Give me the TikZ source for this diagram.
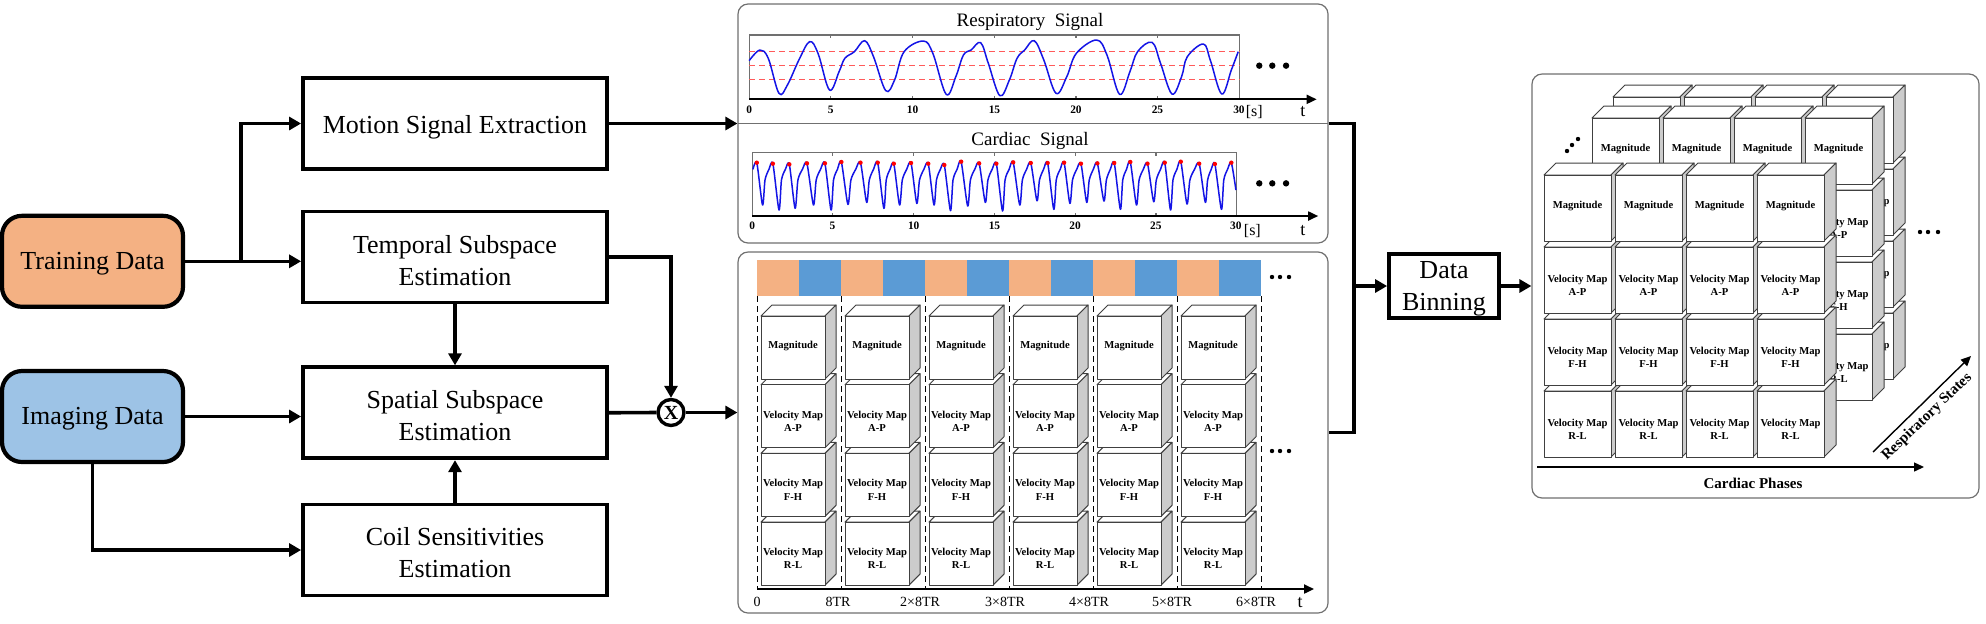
\documentclass[tikz,border=0pt]{standalone}
\usepackage{fontspec}
\setmainfont{Liberation Serif}
\usetikzlibrary{arrows.meta,positioning}
\definecolor{trainfill}{HTML}{F4B183}
\definecolor{imagefill}{HTML}{9DC3E6}
\definecolor{barblue}{HTML}{5B9BD5}
\definecolor{cubeside}{HTML}{CCCCCC}
\definecolor{cubeline}{HTML}{404040}
\definecolor{panelline}{HTML}{707070}
\definecolor{sigblue}{HTML}{1414E6}
\definecolor{guidered}{HTML}{FF5A5A}
\tikzset{
  procbox/.style={draw=black,line width=1.9pt,fill=white,inner sep=0pt},
  boxlabel/.style={inner sep=0pt,align=center,font=\fontsize{13}{16}\selectfont},
  databox/.style={procbox,rounded corners=10pt,line width=2.1pt,minimum width=90.5pt,minimum height=45.5pt},
  panelbox/.style={draw=panelline,line width=0.6pt,rounded corners=5pt,fill=white,inner sep=0pt},
  flow/.style={line width=1.8pt,-{Triangle[length=6pt,width=6.5pt]}},
  flowline/.style={line width=1.8pt},
  axisarrow/.style={line width=0.9pt,-{Triangle[length=5pt,width=4.5pt]}},
  sigcurve/.style={sigblue,line width=0.75pt,line join=round},
  frameline/.style={draw=panelline,line width=0.6pt},
  guide/.style={guidered,line width=0.5pt,densely dashed},
  tr/.style={font=\bfseries\fontsize{5.7}{6}\selectfont,inner sep=0pt},
  sub/.style={font=\fontsize{8}{9}\selectfont,inner sep=0pt},
  titletext/.style={font=\fontsize{9.5}{11}\selectfont,inner sep=0pt},
  timelabel/.style={font=\fontsize{7}{8}\selectfont,inner sep=0pt},
  faceline/.style={draw=cubeline,line width=0.5pt,line join=round},
  cubetext/.style={font=\bfseries\fontsize{5.3}{6.6}\selectfont,align=center,inner sep=0pt},
  axisname/.style={font=\bfseries\fontsize{7.5}{8}\selectfont,inner sep=0pt}
}
% #1 x, #2 y, #3 w, #4 h, #5 d, #6 text offset, #7 text, #8 name
\newcommand{\mcube}[8]{%
  \path[faceline,fill=white] (#1,#2)--++(#5,-#5)--++(#3,0)--++(-#5,#5)--cycle;
  \path[faceline,fill=cubeside] (#1+#3,#2)--++(#5,-#5)--++(0,#4)--++(-#5,#5)--cycle;
  \path[faceline,fill=white] (#1,#2) rectangle ++(#3,#4);
  \node[cubetext] (#8) at (#1+#3/2,#2+#4/2+#6) {#7};
}
\newcommand{\mdots}[4]{%
  \fill (#1) circle[radius=#4]; \fill (#2) circle[radius=#4]; \fill (#3) circle[radius=#4];
}
\begin{document}
\begin{tikzpicture}[x=0.5pt,y=-0.5pt]
\useasboundingbox (0,0) rectangle (1986,623);

% process boxes
\node[procbox,minimum width=152pt,minimum height=45.5pt] (motion) at (455,123.5) {};
\node[boxlabel] (motionT) at (455,127) {Motion Signal Extraction};
\node[procbox,minimum width=152pt,minimum height=45.5pt] (temporal) at (455,257) {};
\node[boxlabel] (temporalT) at (455,261) {Temporal Subspace\\Estimation};
\node[procbox,minimum width=152pt,minimum height=45.5pt] (spatial) at (455,412.75) {};
\node[boxlabel] (spatialT) at (455,416) {Spatial Subspace\\Estimation};
\node[procbox,minimum width=152pt,minimum height=45.5pt] (coil) at (455,550) {};
\node[boxlabel] (coilT) at (455,553) {Coil Sensitivities\\Estimation};
\node[databox,fill=trainfill] (training) at (92.5,261.3) {};
\node[boxlabel] (trainingT) at (92.5,264) {Training Data};
\node[databox,fill=imagefill] (imaging) at (92.5,416.5) {};
\node[boxlabel] (imagingT) at (92.5,419) {Imaging Data};
\node[draw=black,line width=1.7pt,circle,fill=white,minimum size=13pt,inner sep=0pt,font=\bfseries\fontsize{10}{10}\selectfont] (mult) at (671,412.5) {X};
\node[procbox,minimum width=55pt,minimum height=32pt] (binning) at (1444,286) {};
\node[boxlabel] (binningT) at (1444,289) {Data\\Binning};

% panels
\node[panelbox,minimum width=295pt,minimum height=119.5pt] (panelA) at (1033,123.5) {};
\node[panelbox,minimum width=295pt,minimum height=180.5pt] (panelB) at (1033,432.5) {};
\node[panelbox,minimum width=223.5pt,minimum height=212pt] (panelC) at (1755.5,286) {};

% connectors
\coordinate (split) at (241,261.3);
\coordinate (topbend) at (1354,123.5);
\coordinate (botbend) at (1354,432.5);
\coordinate (merge) at (1354,286);
\draw[flow] (training.east) -- (training.east -| temporal.west);
\draw[flow] (split) |- (motion.west);
\draw[flow] (imaging.east) -- (imaging.east -| spatial.west);
\draw[flow] (imaging.south) |- (coil.west);
\draw[flow] (temporal.south) -- (spatial.north);
\draw[flow] (coil.north) -- (spatial.south);
\draw[flow] (temporal.east) -| (mult.north);
\draw[flowline] (spatial.east) -- (mult.west);
\draw[flow] (mult.east) -- (mult.east -| panelB.west);
\draw[flow] (motion.east) -- (panelA.west);
\draw[flowline,line join=miter] (panelA.east) -- (topbend) -- (botbend) -- (panelB.east);
\draw[flow] (merge) -- (binning.west);
\draw[flow] (binning.east) -- (panelC.west);

% panel A: signals
\coordinate (divL) at (738,123);
\coordinate (divR) at (1328,123);
\draw[panelline,line width=0.5pt] (divL) -- (divR);
\node[titletext] (respTitle) at (1030,22) {Respiratory\ \ Signal};
\node[titletext] (cardTitle) at (1030,141) {Cardiac\ \ Signal};

\begin{scope}[shift={(730,0)},x=0.19135pt,y=-0.16667pt]
  \draw[frameline] (50,105) rectangle (1332,298);
  \foreach \v in {263,477,691,904,1117} {\draw[frameline] (\v,105) -- (\v,115); \draw[frameline] (\v,298) -- (\v,288);}
  \foreach \v in {155,197,239} {\draw[guide] (50,\v) -- (1332,\v);}
  \draw[sigcurve] plot[smooth,tension=0.6] coordinates {(50,182)(78,150)(100,175)(128,280)(150,255)(180,180)(208,125)(230,160)(260,270)(285,215)(300,175)(325,155)(352,122)(375,170)(407,272)(430,240)(455,155)(505,123)(530,160)(565,283)(590,230)(610,165)(630,150)(655,128)(675,190)(705,287)(730,240)(750,175)(770,150)(795,122)(820,180)(852,280)(880,230)(905,160)(958,120)(985,165)(1018,283)(1045,215)(1065,155)(1103,127)(1125,190)(1155,282)(1180,230)(1195,170)(1237,132)(1255,180)(1285,282)(1310,210)(1328,155)};
  \coordinate (axAs) at (50,298); \coordinate (axAe) at (1533,298);
  \draw[axisarrow] (axAs) -- (axAe);
  \foreach \v/\l in {50/0,263/5,477/10,691/15,904/20,1117/25,1330/30} {\node[tr] (ra\l) at (\v,330) {\l};}
  \node[sub] (rs) at (1370,335) {[s]};
  \node[sub,font=\fontsize{9}{10}\selectfont] (rt) at (1497,335) {t};
  \mdots{1383,197}{1417,197}{1453,197}{1.6pt}

  % cardiac
  \draw[frameline] (58,458) rectangle (1324,648);
  \foreach \v in {268,480,691,902,1113} {\draw[frameline] (\v,458) -- (\v,468); \draw[frameline] (\v,648) -- (\v,638);}
  \gdef\cardlist{(60,508)}
  \foreach \pk/\pky/\tr/\try/\nx in {70/488/85/615/112,112/491/128/630/155,155/493/170/625/201,201/490/218/615/248,248/490/264/630/291,291/486/308/613/341,341/488/357/607/386,386/488/402/625/428,428/491/443/615/473,473/489/488/610/518,518/491/533/615/560,560/495/576/632/604,604/485/621/618/651,651/490/667/607/696,696/491/712/633/740,740/487/757/615/786,786/489/802/602/830,830/489/846/628/873,873/488/888/610/917,917/491/932/607/960,960/490/977/603/1004,1004/489/1020/628/1046,1046/486/1062/615/1091,1091/491/1107/605/1136,1136/488/1151/630/1178,1178/485/1194/612/1226,1226/491/1242/607/1267,1267/492/1284/628/1310}{
    \pgfmathsetmacro{\aa}{\tr+0.24*(\nx-\tr)}
    \pgfmathsetmacro{\bb}{\tr+0.62*(\nx-\tr)}
    \xdef\cardlist{\cardlist (\pk,\pky)(\tr,\try)(\aa,540)(\bb,508)}
  }
  \xdef\cardlist{\cardlist (1310,488)(1322,570)}
  \edef\drawcard{\noexpand\draw[sigcurve] plot[smooth,tension=0.45] coordinates {\cardlist};}
  \drawcard
  \foreach \pk/\pky in {70/488,112/491,155/493,201/490,248/490,291/486,341/488,386/488,428/491,473/489,518/491,560/495,604/485,651/490,696/491,740/487,786/489,830/489,873/488,917/491,960/490,1004/489,1046/486,1091/491,1136/488,1178/485,1226/491,1267/492,1310/488}{
    \fill[red] (\pk,\pky) circle[radius=1.1pt];
  }
  \coordinate (axCs) at (58,648); \coordinate (axCe) at (1537,648);
  \draw[axisarrow] (axCs) -- (axCe);
  \foreach \v/\l in {58/0,268/5,480/10,691/15,902/20,1113/25,1322/30} {\node[tr] (ca\l) at (\v,678) {\l};}
  \node[sub] (cs) at (1365,692) {[s]};
  \node[sub,font=\fontsize{9}{10}\selectfont] (ct) at (1497,692) {t};
  \mdots{1383,550}{1417,550}{1453,550}{1.6pt}
\end{scope}

% panel B: time bars and cubes
\foreach \k in {0,...,5} {
  \pgfmathsetmacro{\bx}{757+84*\k}
  \fill[trainfill] (\bx,260) rectangle ++(42,36);
  \fill[barblue] (\bx+42,260) rectangle ++(42,36);
}
\foreach \k in {0,...,6} {
  \pgfmathsetmacro{\bx}{757.5+84*\k}
  \draw[black,line width=0.5pt,densely dashed] (\bx,296) -- (\bx,588);
}
\foreach \k in {0,...,5} {
  \pgfmathsetmacro{\cx}{761+84*\k}
  \foreach \r/\lb/\off in {3/{Velocity Map\\R-L}/5,2/{Velocity Map\\F-H}/5,1/{Velocity Map\\A-P}/5,0/Magnitude/-2} {
    \pgfmathsetmacro{\cy}{316+68.7*\r}
    \mcube{\cx}{\cy}{64}{63}{11}{\off}{\lb}{b\k r\r}
  }
}
\coordinate (axBs) at (757,589); \coordinate (axBe) at (1314,589);
\draw[axisarrow,line width=1.1pt] (axBs) -- (axBe);
\foreach \v/\l/\n in {757/0/a,838/8TR/b,920/2×8TR/c,1005/3×8TR/d,1089/4×8TR/e,1172/5×8TR/f,1256/6×8TR/g} {\node[timelabel] (tl\n) at (\v,602) {\l};}
\node[sub,font=\fontsize{9}{10}\selectfont] (bt) at (1300,603) {t};
\mdots{1272,277}{1280,277}{1289,277}{1.1pt}
\mdots{1272,451}{1280,451}{1289,451}{1.1pt}

% panel C: cube stacks
\foreach \lx/\ly/\ln in {1613/97/z,1592/118/y,1544/175/x} {
  \foreach \k in {0,...,3} {
    \pgfmathsetmacro{\cx}{\lx+71*\k}
    \foreach \r/\lb/\off in {3/{Velocity Map\\R-L}/5,2/{Velocity Map\\F-H}/5,1/{Velocity Map\\A-P}/5,0/Magnitude/-2} {
      \pgfmathsetmacro{\cy}{\ly+72*\r}
      \mcube{\cx}{\cy}{67}{66}{12}{\off}{\lb}{\ln\k r\r}
    }
  }
}
\mdots{1567,151}{1572,145}{1578,139}{1.1pt}
\mdots{1920,232}{1928,232}{1938,232}{1.1pt}
\coordinate (cardS) at (1537,467); \coordinate (cardE) at (1924,467);
\draw[axisarrow,line width=0.7pt] (cardS) -- (cardE);
\node[axisname] (cardName) at (1753,483) {Cardiac Phases};
\coordinate (respS) at (1873,452); \coordinate (respE) at (1971,356);
\draw[axisarrow,line width=0.7pt] (respS) -- (respE);
\node[axisname,rotate=44] (respName) at (1927,417) {Respiratory States};
\end{tikzpicture}
\end{document}
